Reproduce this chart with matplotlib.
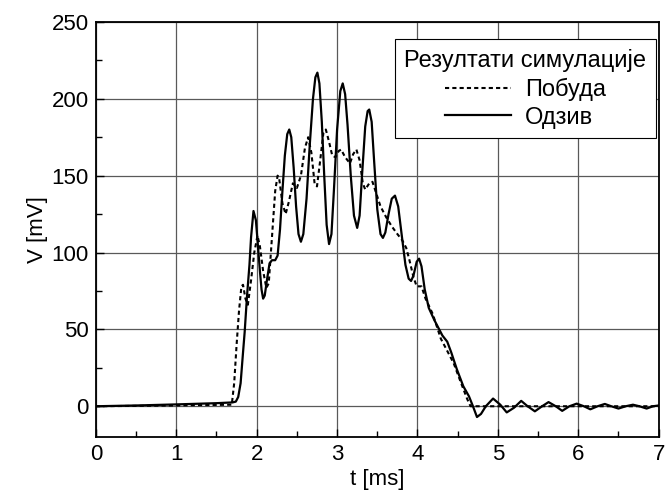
import matplotlib
matplotlib.use("Agg")
import matplotlib.pyplot as plt
from matplotlib.ticker import MultipleLocator

plt.rcParams['font.family'] = ['Liberation Sans', 'DejaVu Sans']

# Response (Одзив)
t_resp = [0.0, 0.5, 1.0, 1.5, 1.70, 1.74, 1.77, 1.80, 1.83, 1.85, 1.88, 1.91,
          1.93, 1.96, 1.99, 2.01, 2.04, 2.06, 2.08, 2.10, 2.13, 2.16, 2.19,
          2.23, 2.26, 2.29, 2.32, 2.35, 2.38, 2.405, 2.43, 2.46, 2.49, 2.52,
          2.55, 2.58, 2.62, 2.66, 2.70, 2.73, 2.755, 2.78, 2.81, 2.84, 2.87,
          2.90, 2.93, 2.96, 3.00, 3.04, 3.07, 3.10, 3.13, 3.17, 3.21, 3.25,
          3.28, 3.31, 3.35, 3.38, 3.40, 3.43, 3.46, 3.50, 3.54, 3.57, 3.60,
          3.64, 3.68, 3.72, 3.76, 3.80, 3.85, 3.89, 3.92, 3.95, 3.99, 4.02,
          4.05, 4.09, 4.14, 4.21, 4.25, 4.31, 4.37, 4.42, 4.49, 4.57, 4.64,
          4.69, 4.74, 4.79, 4.85, 4.94, 5.03, 5.11, 5.20, 5.29, 5.37, 5.46,
          5.55, 5.63, 5.72, 5.80, 5.89, 5.98, 6.07, 6.15, 6.24, 6.33, 6.41,
          6.50, 6.59, 6.68, 6.76, 6.85, 6.93, 7.0]
v_resp = [0.0, 0.5, 1.2, 2.0, 2.5, 3.0, 6.0, 15, 35, 48, 72, 92,
          110, 127, 121, 108, 88, 76, 70, 72, 83, 93, 95,
          95, 98, 115, 140, 163, 177, 180, 175, 155, 130, 112,
          107, 112, 135, 170, 200, 214, 217, 210, 185, 150, 118,
          105.5, 112, 140, 180, 205, 210, 203, 183, 150, 124, 116,
          124, 150, 182, 192, 193, 185, 160, 128, 112, 109.5, 113,
          125, 135, 137, 130, 113, 92, 83, 81.5, 85, 94, 96,
          91, 76, 64, 56, 52, 46, 42, 35, 24, 13, 6.5,
          0, -7, -5, 0, 5, 1, -4, -1, 3.5, 0, -3.3,
          0, 2.7, 0, -3, 0, 1.7, 0, -2, 0, 1.5, 0,
          -1.5, 0, 1, 0, -1.5, 0, 0.5]

# Excitation (Побуда)
t_exc = [0.0, 1.0, 1.69, 1.72, 1.75, 1.78, 1.81, 1.83, 1.86, 1.89, 1.93,
         1.97, 2.01, 2.04, 2.08, 2.12, 2.15, 2.19, 2.23, 2.26, 2.28, 2.32,
         2.36, 2.40, 2.45, 2.50, 2.55, 2.60, 2.64, 2.68, 2.72, 2.75, 2.79,
         2.83, 2.86, 2.90, 2.94, 2.98, 3.02, 3.05, 3.10, 3.16, 3.20, 3.24,
         3.28, 3.32, 3.35, 3.40, 3.44, 3.49, 3.54, 3.61, 3.68, 3.75, 3.81,
         3.86, 3.90, 3.95, 3.99, 4.05, 4.10, 4.19, 4.29, 4.37, 4.45, 4.55,
         4.62, 4.66, 5.0, 6.0, 7.0]
v_exc = [0.0, 0.5, 1.0, 15, 40, 62, 78, 79, 70, 66, 82,
         100, 111, 104, 88, 77, 80, 110, 140, 150, 148, 132,
         125, 133, 145, 142, 150, 168, 175, 165, 145, 143, 160,
         178, 180, 172, 163, 162, 166, 167, 162, 158, 164, 167,
         160, 145, 141, 145, 146, 138, 130, 123, 117, 112, 108,
         103, 95, 84, 78, 78, 70, 60, 44, 36, 28, 14,
         4.5, 0, 0, 0, 0]

x_ticks = [0, 1, 2, 3, 4, 5, 6, 7]
y_ticks = [0, 50, 100, 150, 200, 250]

FONT = 16
LEG_FONT = 17

fig = plt.figure(figsize=(6.66, 4.98), dpi=100)
ax = fig.add_axes([0.144, 0.1225, 0.845, 0.8335])

ax.plot(t_exc, v_exc, color="black", lw=1.5, linestyle=(0, (2, 1.5)),
        label="Побуда")
ax.plot(t_resp, v_resp, color="black", lw=1.6, label="Одзив")

ax.set_xlim(0, 7)
ax.set_ylim(-20, 250)
ax.set_xticks(x_ticks)
ax.set_yticks(y_ticks)
ax.xaxis.set_minor_locator(MultipleLocator(0.5))
ax.yaxis.set_minor_locator(MultipleLocator(25))
ax.tick_params(which="major", direction="in", length=6, width=1,
               labelsize=FONT, pad=5, colors="black")
ax.tick_params(which="minor", direction="in", length=4, width=1)
ax.grid(True, which="major", color="0.35", lw=0.9)
for s in ax.spines.values():
    s.set_linewidth(1.3)

ax.set_xlabel("t [ms]", fontsize=FONT, labelpad=3)
ax.set_ylabel("V [mV]", fontsize=FONT, labelpad=3)

leg = ax.legend(title="Резултати симулације", loc="upper right",
                bbox_to_anchor=(0.995, 0.958), borderaxespad=0,
                fontsize=LEG_FONT, title_fontsize=LEG_FONT, fancybox=False,
                framealpha=1, edgecolor="black", handlelength=2.8,
                borderpad=0.4, labelspacing=0.25, handletextpad=0.6)
leg.get_frame().set_linewidth(0.8)

fig.savefig("out.png", dpi=100)
